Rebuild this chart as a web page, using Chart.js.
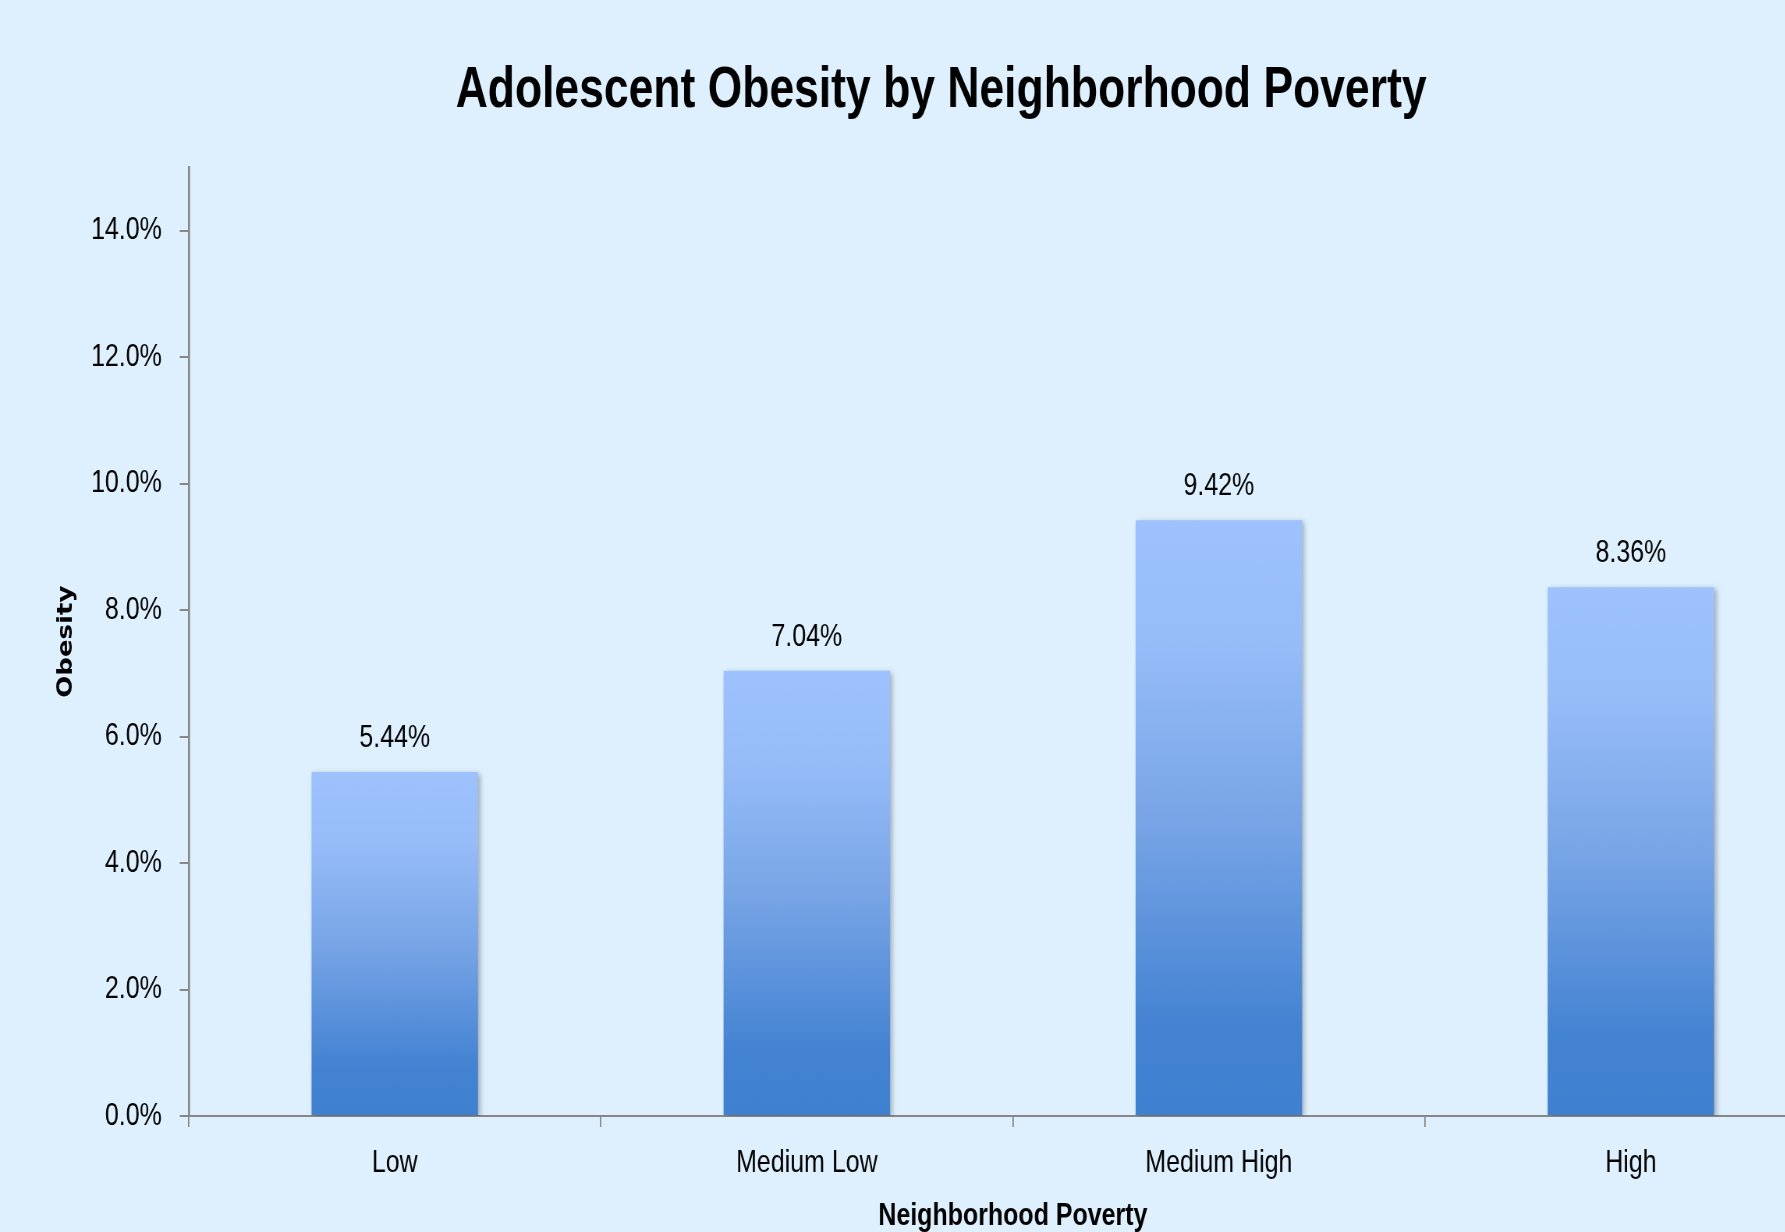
<!DOCTYPE html>
<html>
<head>
<meta charset="utf-8">
<title>Adolescent Obesity by Neighborhood Poverty</title>
<script src="https://cdn.jsdelivr.net/npm/chart.js@4.4.1/dist/chart.umd.min.js"></script>
<style>
  html, body { margin: 0; padding: 0; background: #DEF0FE; overflow: hidden; }
  #wrap { width: 1785px; height: 1232px; overflow: hidden; }
  /* the source picture is squeezed sideways, so the whole chart is drawn wide and squeezed the same way */
  #squeeze { transform: scaleX(0.78); transform-origin: 0 0; width: 2413px; }
  canvas { display: block; }
</style>
</head>
<body>
<div id="wrap"><div id="squeeze"><canvas id="ObesityChart" width="2413" height="1240"></canvas></div></div>
<script>
// data
const categories = ['Low', 'Medium Low', 'Medium High', 'High'];
const obesityPct = [5.44, 7.04, 9.42, 8.36];
const yTickValues = [0, 2, 4, 6, 8, 10, 12, 14];

const sans = "'Liberation Sans', Arial, sans-serif";
const axisGrey = '#878787';

// bar fill: light at each bar top, darker toward the baseline
function barGradient(c) {
    const chart = c.chart;
    if (!chart.chartArea) return '#9BC0FC';
    const y = chart.scales.y;
    const top = y.getPixelForValue(c.raw);
    const bottom = y.getPixelForValue(0);
    const g = chart.ctx.createLinearGradient(0, top, 0, bottom);
    g.addColorStop(0, '#9DC2FE');
    g.addColorStop(0.2, '#97BDF9');
    g.addColorStop(0.5, '#78A5E6');
    g.addColorStop(0.85, '#4483D2');
    g.addColorStop(1, '#3F80D0');
    return g;
}

// soft shadow behind the bars
const barShadow = {
    id: 'barShadow',
    beforeDatasetDraw(chart) {
        const ctx = chart.ctx;
        ctx.save();
        ctx.shadowColor = 'rgba(0,0,0,0.28)';
        ctx.shadowBlur = 6;
        ctx.shadowOffsetX = 3;
        ctx.shadowOffsetY = 2;
    },
    afterDatasetDraw(chart) {
        chart.ctx.restore();
    }
};

// value labels above each bar
const valueLabels = {
    id: 'valueLabels',
    afterDatasetsDraw(chart) {
        const ctx = chart.ctx;
        const meta = chart.getDatasetMeta(0);
        ctx.save();
        ctx.font = '32px ' + sans;
        ctx.fillStyle = '#000';
        ctx.textAlign = 'center';
        ctx.textBaseline = 'alphabetic';
        meta.data.forEach((bar, i) => {
            ctx.fillText(obesityPct[i].toFixed(2) + '%', bar.x, bar.y - 25);
        });
        ctx.restore();
    }
};

const ctx = document.getElementById('ObesityChart');
const c = new Chart(ctx, {
    type: 'bar',
    data: {
        labels: categories,
        datasets: [{
            label: 'Obesity',
            data: obesityPct,
            backgroundColor: barGradient,
            borderWidth: 0,
            categoryPercentage: 1.0,
            barPercentage: 0.404
        }]
    },
    options: {
        responsive: false,
        animation: false,
        devicePixelRatio: 1,
        layout: { padding: 0 },
        plugins: {
            legend: { display: false },
            tooltip: { enabled: false },
            title: {
                display: true,
                text: 'Adolescent Obesity by Neighborhood Poverty',
                color: '#000',
                font: { family: sans, size: 57, weight: 'bold', lineHeight: 1.2 },
                padding: { top: 57, bottom: 42 }
            }
        },
        scales: {
            x: {
                z: 1,
                grid: { display: true, drawOnChartArea: false, drawTicks: true, tickLength: 11, color: axisGrey, lineWidth: 1.8, offset: true },
                border: { display: true, color: axisGrey, width: 2 },
                ticks: { font: { family: sans, size: 32 }, color: '#000', padding: 17, maxRotation: 0 },
                title: {
                    display: true,
                    text: 'Neighborhood Poverty',
                    color: '#000',
                    font: { family: sans, size: 32, weight: 'bold', lineHeight: 1.2 },
                    padding: { top: 0, bottom: 5 }
                },
                afterFit(scale) { scale.height = 124; }
            },
            y: {
                z: 1,
                min: 0,
                max: 15,
                ticks: {
                    stepSize: 2,
                    font: { family: sans, size: 32 },
                    color: '#000',
                    padding: 23,
                    callback: v => v.toFixed(1) + '%'
                },
                afterBuildTicks(scale) {
                    scale.ticks = yTickValues.map(v => ({ value: v }));
                },
                grid: { display: true, drawOnChartArea: false, drawTicks: true, tickLength: 11.5, color: axisGrey, lineWidth: 2 },
                border: { display: true, color: axisGrey, width: 2.6 },
                title: {
                    display: true,
                    text: 'Obesity',
                    color: '#000',
                    font: { family: "'DejaVu Sans', sans-serif", size: 26, weight: 'bold', lineHeight: 1.2 },
                    padding: { top: 70, bottom: 0 }
                },
                afterFit(scale) { scale.width = 242; }
            },
            // empty right-hand strip: the plot runs off the right edge, title stays centred on the full width
            yRight: {
                type: 'linear',
                position: 'right',
                min: 0,
                max: 15,
                grid: { display: false },
                border: { display: false },
                ticks: { display: false },
                afterFit(scale) { scale.width = 58; }
            }
        }
    },
    plugins: [barShadow, valueLabels]
});
</script>
</body>
</html>
